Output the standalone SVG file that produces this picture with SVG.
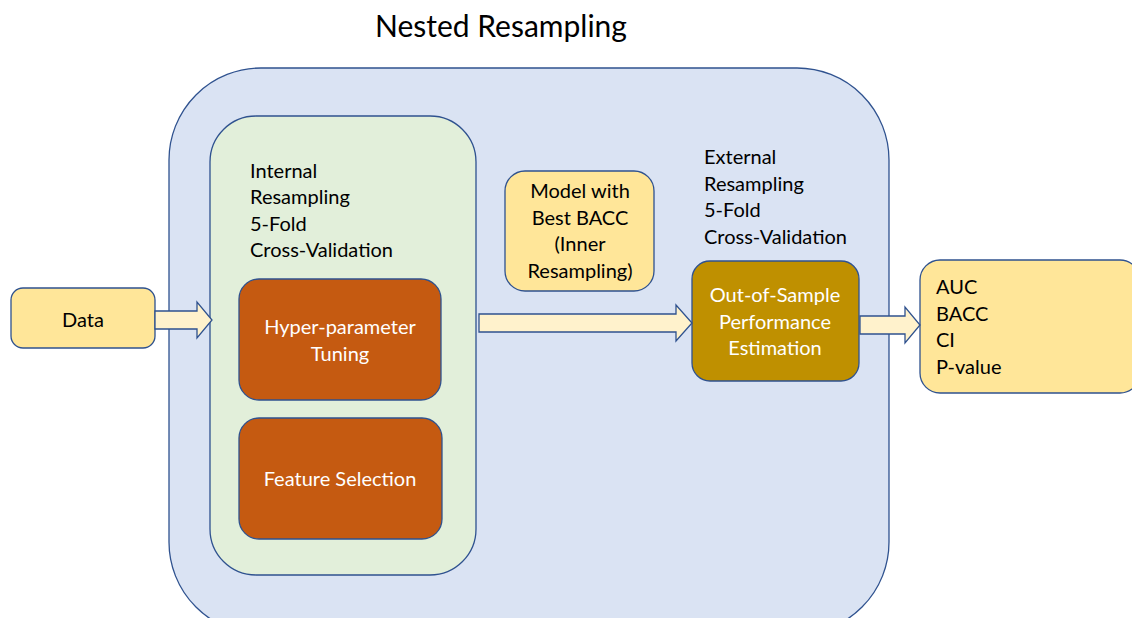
<svg xmlns="http://www.w3.org/2000/svg" width="1132" height="618" viewBox="0 0 1132 618">
  <style>
    text { font-family: Lato, "Open Sans", "Liberation Sans", sans-serif; font-size: 20px; fill: #000; }
    .box { stroke: #2F528F; stroke-width: 1.3; }
    .outer { fill: #DAE3F3; }
    .inner { fill: #E2EFDA; }
    .orange { fill: #C55A11; }
    .gold { fill: #BF9000; }
    .yellow { fill: #FFE699; }
    .arrow { fill: #FFF2CC; stroke: #2F528F; stroke-width: 1.3; }
    .white { fill: #FFFFFF; }
    .mid { text-anchor: middle; }
  </style>

  <rect width="1132" height="618" fill="#FFFFFF"/>

  <g id="title">
    <text x="501" y="37" class="mid" style="font-size:30px">Nested Resampling</text>
  </g>

  <g id="nested-resampling">
    <rect class="box outer" x="169" y="68" width="720" height="566" rx="92" ry="92"/>
    <text x="704" y="164">External</text>
    <text x="704" y="191">Resampling</text>
    <text x="704" y="217">5-Fold</text>
    <text x="704" y="244">Cross-Validation</text>
  </g>

  <g id="internal-resampling">
    <rect class="box inner" x="210" y="116" width="266" height="459" rx="46" ry="46"/>
    <text x="250" y="178">Internal</text>
    <text x="250" y="204">Resampling</text>
    <text x="250" y="231">5-Fold</text>
    <text x="250" y="257">Cross-Validation</text>
  </g>

  <g id="hyperparameter-tuning">
    <rect class="box orange" x="239" y="279" width="202" height="121" rx="20" ry="20"/>
    <text x="340" y="334" class="mid white">Hyper-parameter</text>
    <text x="340" y="361" class="mid white">Tuning</text>
  </g>

  <g id="feature-selection">
    <rect class="box orange" x="239" y="418" width="203" height="121" rx="20" ry="20"/>
    <text x="340" y="486" class="mid white">Feature Selection</text>
  </g>

  <g id="data">
    <rect class="box yellow" x="11" y="288" width="144" height="60" rx="12" ry="12"/>
    <text x="83" y="327" class="mid">Data</text>
  </g>

  <g id="best-model">
    <rect class="box yellow" x="505" y="171" width="149" height="120" rx="20" ry="20"/>
    <text x="580" y="198" class="mid">Model with</text>
    <text x="580" y="225" class="mid">Best BACC</text>
    <text x="580" y="251" class="mid">(Inner</text>
    <text x="580" y="278" class="mid">Resampling)</text>
  </g>

  <g id="performance-estimation">
    <rect class="box gold" x="692" y="261" width="167" height="120" rx="18" ry="18"/>
    <text x="775" y="302" class="mid white">Out-of-Sample</text>
    <text x="775" y="329" class="mid white">Performance</text>
    <text x="775" y="355" class="mid white">Estimation</text>
  </g>

  <g id="metrics">
    <rect class="box yellow" x="920" y="260" width="220" height="133" rx="20" ry="20"/>
    <text x="936" y="294">AUC</text>
    <text x="936" y="321">BACC</text>
    <text x="936" y="347">CI</text>
    <text x="936" y="374">P-value</text>
  </g>

  <g id="connectors">
    <!-- block arrows between stages -->
    <path class="arrow" d="M155,311 H197 V302 L212,320 L197,338 V329 H155 Z"/>
    <path class="arrow" d="M479,314 H676 V305 L692,323 L676,341 V332 H479 Z"/>
    <path class="arrow" d="M860,316 H905 V307 L920,325 L905,343 V334 H860 Z"/>
  </g>
</svg>
